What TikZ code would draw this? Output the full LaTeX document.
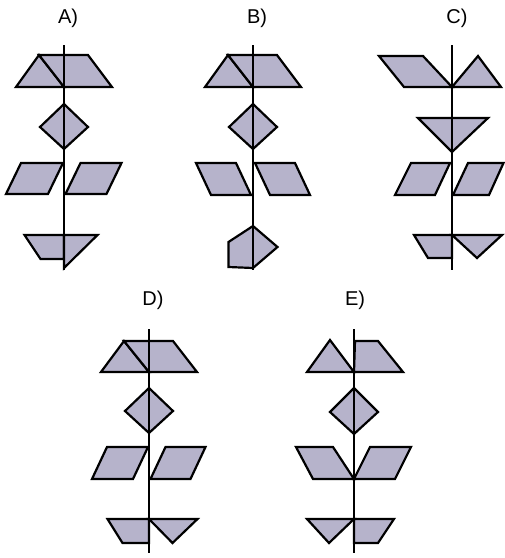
\documentclass[tikz,border=0pt]{standalone}
\usepackage{fontspec}
\newfontfamily\lblfont{Liberation Sans}
\usepackage{xcolor}
\usepackage{tikz}
\usetikzlibrary{positioning}

\definecolor{leafgray}{RGB}{182,179,203}

\begin{document}
\begin{tikzpicture}[
    x=1pt, y=-1pt,
    piece/.style={draw=black, fill=leafgray, line width=2.2pt, line join=miter},
    stem/.style={draw=black, line width=1.9pt},
    lbl/.style={font=\lblfont\fontsize{20}{22}\selectfont, inner sep=0pt},
]
\useasboundingbox (0,0) rectangle (505,558);

% Labels
\node[lbl] (labA) at (68,18) {A)};
\node[lbl] (labB) at (257,18) {B)};
\node[lbl] (labC) at (457,18) {C)};
\node[lbl] (labD) at (153,300) {D)};
\node[lbl] (labE) at (355,300) {E)};

% Option A
\begin{scope}[shift={(64,0)}]
  \draw[piece] (-48,87) -- (-25,55) -- (0,87) -- cycle;
  \draw[piece] (-25,55) -- (24,55) -- (48,87) -- (0,87) -- cycle;
  \draw[piece] (0,104) -- (-24,127) -- (0,149) -- (24,127) -- cycle;
  \draw[piece] (-58,194) -- (-16,194) -- (-1,163) -- (-43,163) -- cycle;
  \draw[piece] (1.5,194) -- (42.5,194) -- (57.5,163) -- (16.5,163) -- cycle;
  \draw[piece] (-39.5,235) -- (0,235) -- (0,259) -- (-23.5,259) -- cycle;
  \draw[piece] (0,235) -- (33.5,235) -- (0,268) -- cycle;
  \draw[stem] (0,45) -- (0,270);
\end{scope}

% Option B
\begin{scope}[shift={(253,0)}]
  \draw[piece] (-48,87) -- (-25,55) -- (0,87) -- cycle;
  \draw[piece] (-25,55) -- (24,55) -- (48,87) -- (0,87) -- cycle;
  \draw[piece] (0,104) -- (-24,127) -- (0,149) -- (24,127) -- cycle;
  \draw[piece] (-57,163) -- (-17,163) -- (-2,195) -- (-42,195) -- cycle;
  \draw[piece] (2,163) -- (42,163) -- (57,195) -- (17,195) -- cycle;
  \draw[piece] (0,226) -- (24.5,247) -- (0,268) -- (-24.5,267) -- (-24.5,242) -- cycle;
  \draw[stem] (0,45) -- (0,270);
\end{scope}

% Option C
\begin{scope}[shift={(452,0)}]
  \draw[piece] (-73,56) -- (-29,56) -- (0,87) -- (-48,87) -- cycle;
  \draw[piece] (0,87) -- (26,56) -- (49,87) -- cycle;
  \draw[piece] (-34,118) -- (36,118) -- (0,152) -- cycle;
  \draw[piece] (-41,163) -- (-2,163) -- (-17,195) -- (-57,195) -- cycle;
  \draw[piece] (16,163) -- (51.5,163) -- (37,195) -- (1,195) -- cycle;
  \draw[piece] (-38,235) -- (0,235) -- (0,258) -- (-24,258) -- cycle;
  \draw[piece] (0,235) -- (50,235) -- (25,258) -- cycle;
  \draw[stem] (0,45) -- (0,270);
\end{scope}

% Option D
\begin{scope}[shift={(149,286)}]
  \draw[piece] (-48,86) -- (-25,55) -- (0,86) -- cycle;
  \draw[piece] (-25,55) -- (24,55) -- (48,86) -- (0,86) -- cycle;
  \draw[piece] (0,102) -- (-24,125) -- (0,147) -- (24,125) -- cycle;
  \draw[piece] (-57,193) -- (-16,193) -- (-1,161) -- (-42,161) -- cycle;
  \draw[piece] (1.5,193) -- (41.5,193) -- (56.5,161) -- (16.5,161) -- cycle;
  \draw[piece] (-41.5,233) -- (0,233) -- (0,257) -- (-26.5,257) -- cycle;
  \draw[piece] (0,233) -- (48.5,233) -- (23.5,257) -- cycle;
  \draw[stem] (0,43) -- (0,267);
\end{scope}

% Option E
\begin{scope}[shift={(354,286)}]
  \draw[piece] (-47,86) -- (-24,54) -- (0,86) -- cycle;
  \draw[piece] (1,55) -- (24,55) -- (49,86) -- (0,86) -- cycle;
  \draw[piece] (0,102) -- (-24,126) -- (0,148) -- (24,126) -- cycle;
  \draw[piece] (-58,161) -- (-21,161) -- (0,193) -- (-41,193) -- cycle;
  \draw[piece] (16,161) -- (57,161) -- (41,193) -- (0,193) -- cycle;
  \draw[piece] (-47,233) -- (0,233) -- (-25,257) -- cycle;
  \draw[piece] (0,233) -- (40,233) -- (24,257) -- (0,257) -- cycle;
  \draw[stem] (0,43) -- (0,267);
\end{scope}

\end{tikzpicture}
\end{document}
